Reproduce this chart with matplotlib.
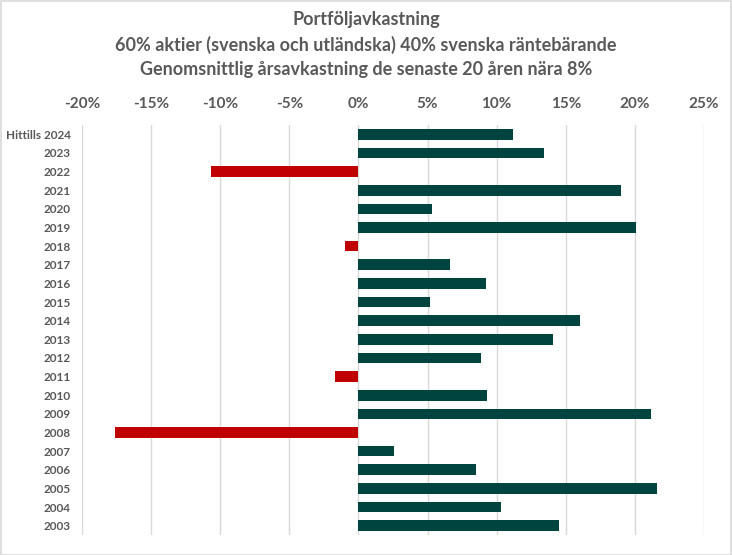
import matplotlib.pyplot as plt
from matplotlib.patches import Rectangle
from matplotlib.ticker import FuncFormatter

# data (top to bottom as shown)
years = ["Hittills 2024", "2023", "2022", "2021", "2020", "2019", "2018", "2017",
         "2016", "2015", "2014", "2013", "2012", "2011", "2010", "2009", "2008",
         "2007", "2006", "2005", "2004", "2003"]
returns = [11.2, 13.4, -10.7, 19.0, 5.3, 20.1, -1.0, 6.6, 9.2, 5.2, 16.0, 14.1,
           8.9, -1.7, 9.3, 21.2, -17.6, 2.6, 8.5, 21.6, 10.3, 14.5]
x_ticks = [-20, -15, -10, -5, 0, 5, 10, 15, 20, 25]

GREEN = "#00443F"
RED = "#C00000"
TEXT = "#595959"

plt.rcParams["font.family"] = ["Lato", "DejaVu Sans"]

fig = plt.figure(figsize=(7.32, 5.55), dpi=100)
W, H = 732, 555
ax = fig.add_axes([82 / W, 1 - 535 / H, (704 - 82) / W, (535 - 125) / H])

colors = [GREEN if v >= 0 else RED for v in returns]
ypos = list(range(len(years)))
ax.barh(ypos, returns, height=0.57, color=colors, zorder=3)

ax.set_ylim(len(years) - 0.5, -0.5)
ax.set_xlim(-20, 25)
ax.set_xticks(x_ticks)
ax.xaxis.set_major_formatter(FuncFormatter(lambda v, p: f"{v:.0f}%"))
ax.xaxis.tick_top()
ax.tick_params(axis="x", length=0, pad=10, labelsize=11, labelcolor=TEXT)
ax.set_yticks(ypos)
ax.set_yticklabels(years)
ax.tick_params(axis="y", length=0, pad=8, labelsize=8.5, labelcolor=TEXT)
for lab in ax.get_xticklabels() + ax.get_yticklabels():
    lab.set_fontweight("bold")

ax.grid(axis="x", color="#D9D9D9", linewidth=1.0, zorder=0)
for s in ax.spines.values():
    s.set_visible(False)

fig.text(0.5, 1 - 20 / H, "Portföljavkastning", ha="center", va="center",
         fontsize=13, fontweight="bold", color=TEXT)
fig.text(0.5, 1 - 45 / H, "60% aktier (svenska och utländska) 40% svenska räntebärande",
         ha="center", va="center", fontsize=13, fontweight="bold", color=TEXT)
fig.text(0.5, 1 - 69 / H, "Genomsnittlig årsavkastning de senaste 20 åren nära 8%",
         ha="center", va="center", fontsize=13, fontweight="bold", color=TEXT)

fig.patches.append(Rectangle((0.5 / W, 0.5 / H), 1 - 1.5 / W, 1 - 1.5 / H,
                             transform=fig.transFigure, fill=False,
                             edgecolor="#D9D9D9", linewidth=1.2))

fig.savefig("out.png", dpi=100)
